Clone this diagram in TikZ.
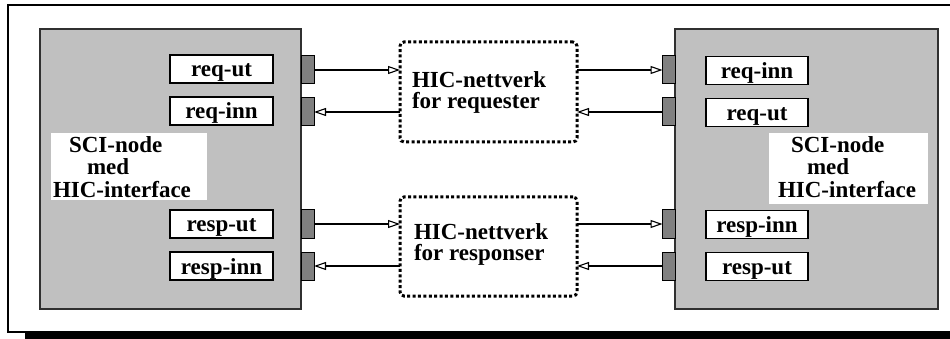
\documentclass[tikz,border=0pt]{standalone}
\usepackage{fontspec}
\setmainfont{Liberation Serif}
\usetikzlibrary{arrows.meta}
\definecolor{boxgray}{HTML}{C0C0C0}
\definecolor{portgray}{HTML}{808080}
\definecolor{edgegray}{HTML}{303030}
\begin{document}
\begin{tikzpicture}[x=1pt,y=-1pt,
  font=\fontsize{23}{22}\selectfont\bfseries,
  every node/.style={inner sep=0pt, outer sep=0pt},
  sci/.style={draw=edgegray, line width=1.5pt, fill=boxgray},
  port/.style={draw=black, line width=1pt, fill=portgray, minimum width=13pt, minimum height=28pt},
  lbl/.style={draw=black, line width=1.5pt, fill=white, minimum width=103pt, minimum height=28pt, text height=17pt, text depth=1pt},
  tbox/.style={fill=white},
  net/.style={draw=black, line width=3pt, dash pattern=on 3pt off 2.4pt, rounded corners=4pt},
  txt/.style={anchor=base west},
  nettxt/.style={anchor=north west, align=left, font=\fontsize{23}{20.4}\selectfont\bfseries},
  link/.style={line width=1.1pt, -{Triangle[open, length=12pt, width=8pt, line width=1.1pt]}}
]
\useasboundingbox (0,0) rectangle (950,339);
\clip (0,0) rectangle (950,339);
% frame with shadow
\fill[black] (25,12) rectangle (1000,345);
\draw[line width=2pt, fill=white] (8,5) rectangle (980,332);

% SCI nodes
\node[sci, minimum width=261pt, minimum height=280pt] (lnode) at (170.5,169) {};
\node[sci, minimum width=263pt, minimum height=280pt] (rnode) at (806.5,169) {};

% ports
\foreach \i/\y in {1/70,2/112,3/224,4/266}{
  \node[port] (lp\i) at (307.5,\y) {};
  \node[port] (rp\i) at (669,\y) {};
}

% labels left
\node[lbl] (ll1) at (221.5,69) {req-ut};
\node[lbl] (ll2) at (221.5,111) {req-inn};
\node[lbl] (ll3) at (221.5,224) {resp-ut};
\node[lbl] (ll4) at (221.5,266) {resp-inn};
% labels right
\node[lbl, minimum width=102pt] (rl1) at (757,70.5) {req-inn};
\node[lbl, minimum width=102pt] (rl2) at (757,112.5) {req-ut};
\node[lbl, minimum width=102pt] (rl3) at (757,224.5) {resp-inn};
\node[lbl, minimum width=102pt] (rl4) at (757,266.5) {resp-ut};

% white text boxes
\node[tbox, minimum width=156pt, minimum height=67pt] (lt) at (129,166.5) {};
\node[tbox, minimum width=159pt, minimum height=71pt] (rt) at (848.5,168.5) {};
\node[txt] (lt1) at (69,152.7) {SCI-node};
\node[txt] (lt2) at (87,175) {med};
\node[txt] (lt3) at (53,197) {HIC-interface};
\node[txt] (rt1) at (791,152.7) {SCI-node};
\node[txt] (rt2) at (807,175) {med};
\node[txt] (rt3) at (778,197) {HIC-interface};

% networks
\node[net, minimum width=177pt, minimum height=100pt] (net1) at (488.5,92) {};
\node[net, minimum width=177pt, minimum height=99pt] (net2) at (488.5,246.5) {};
\node[nettxt] (n1) at (412,71.8) {HIC-nettverk\\for requester};
\node[nettxt] (n2) at (414,223.8) {HIC-nettverk\\for responser};

% connectors
\draw[link] (lp1.east) -- (lp1.east -| net1.west);
\draw[link] (net1.east |- rp1.west) -- (rp1.west);
\draw[link] (rp2.west) -- (rp2.west -| net1.east);
\draw[link] (net1.west |- lp2.east) -- (lp2.east);
\draw[link] (lp3.east) -- (lp3.east -| net2.west);
\draw[link] (net2.east |- rp3.west) -- (rp3.west);
\draw[link] (rp4.west) -- (rp4.west -| net2.east);
\draw[link] (net2.west |- lp4.east) -- (lp4.east);
\end{tikzpicture}
\end{document}
